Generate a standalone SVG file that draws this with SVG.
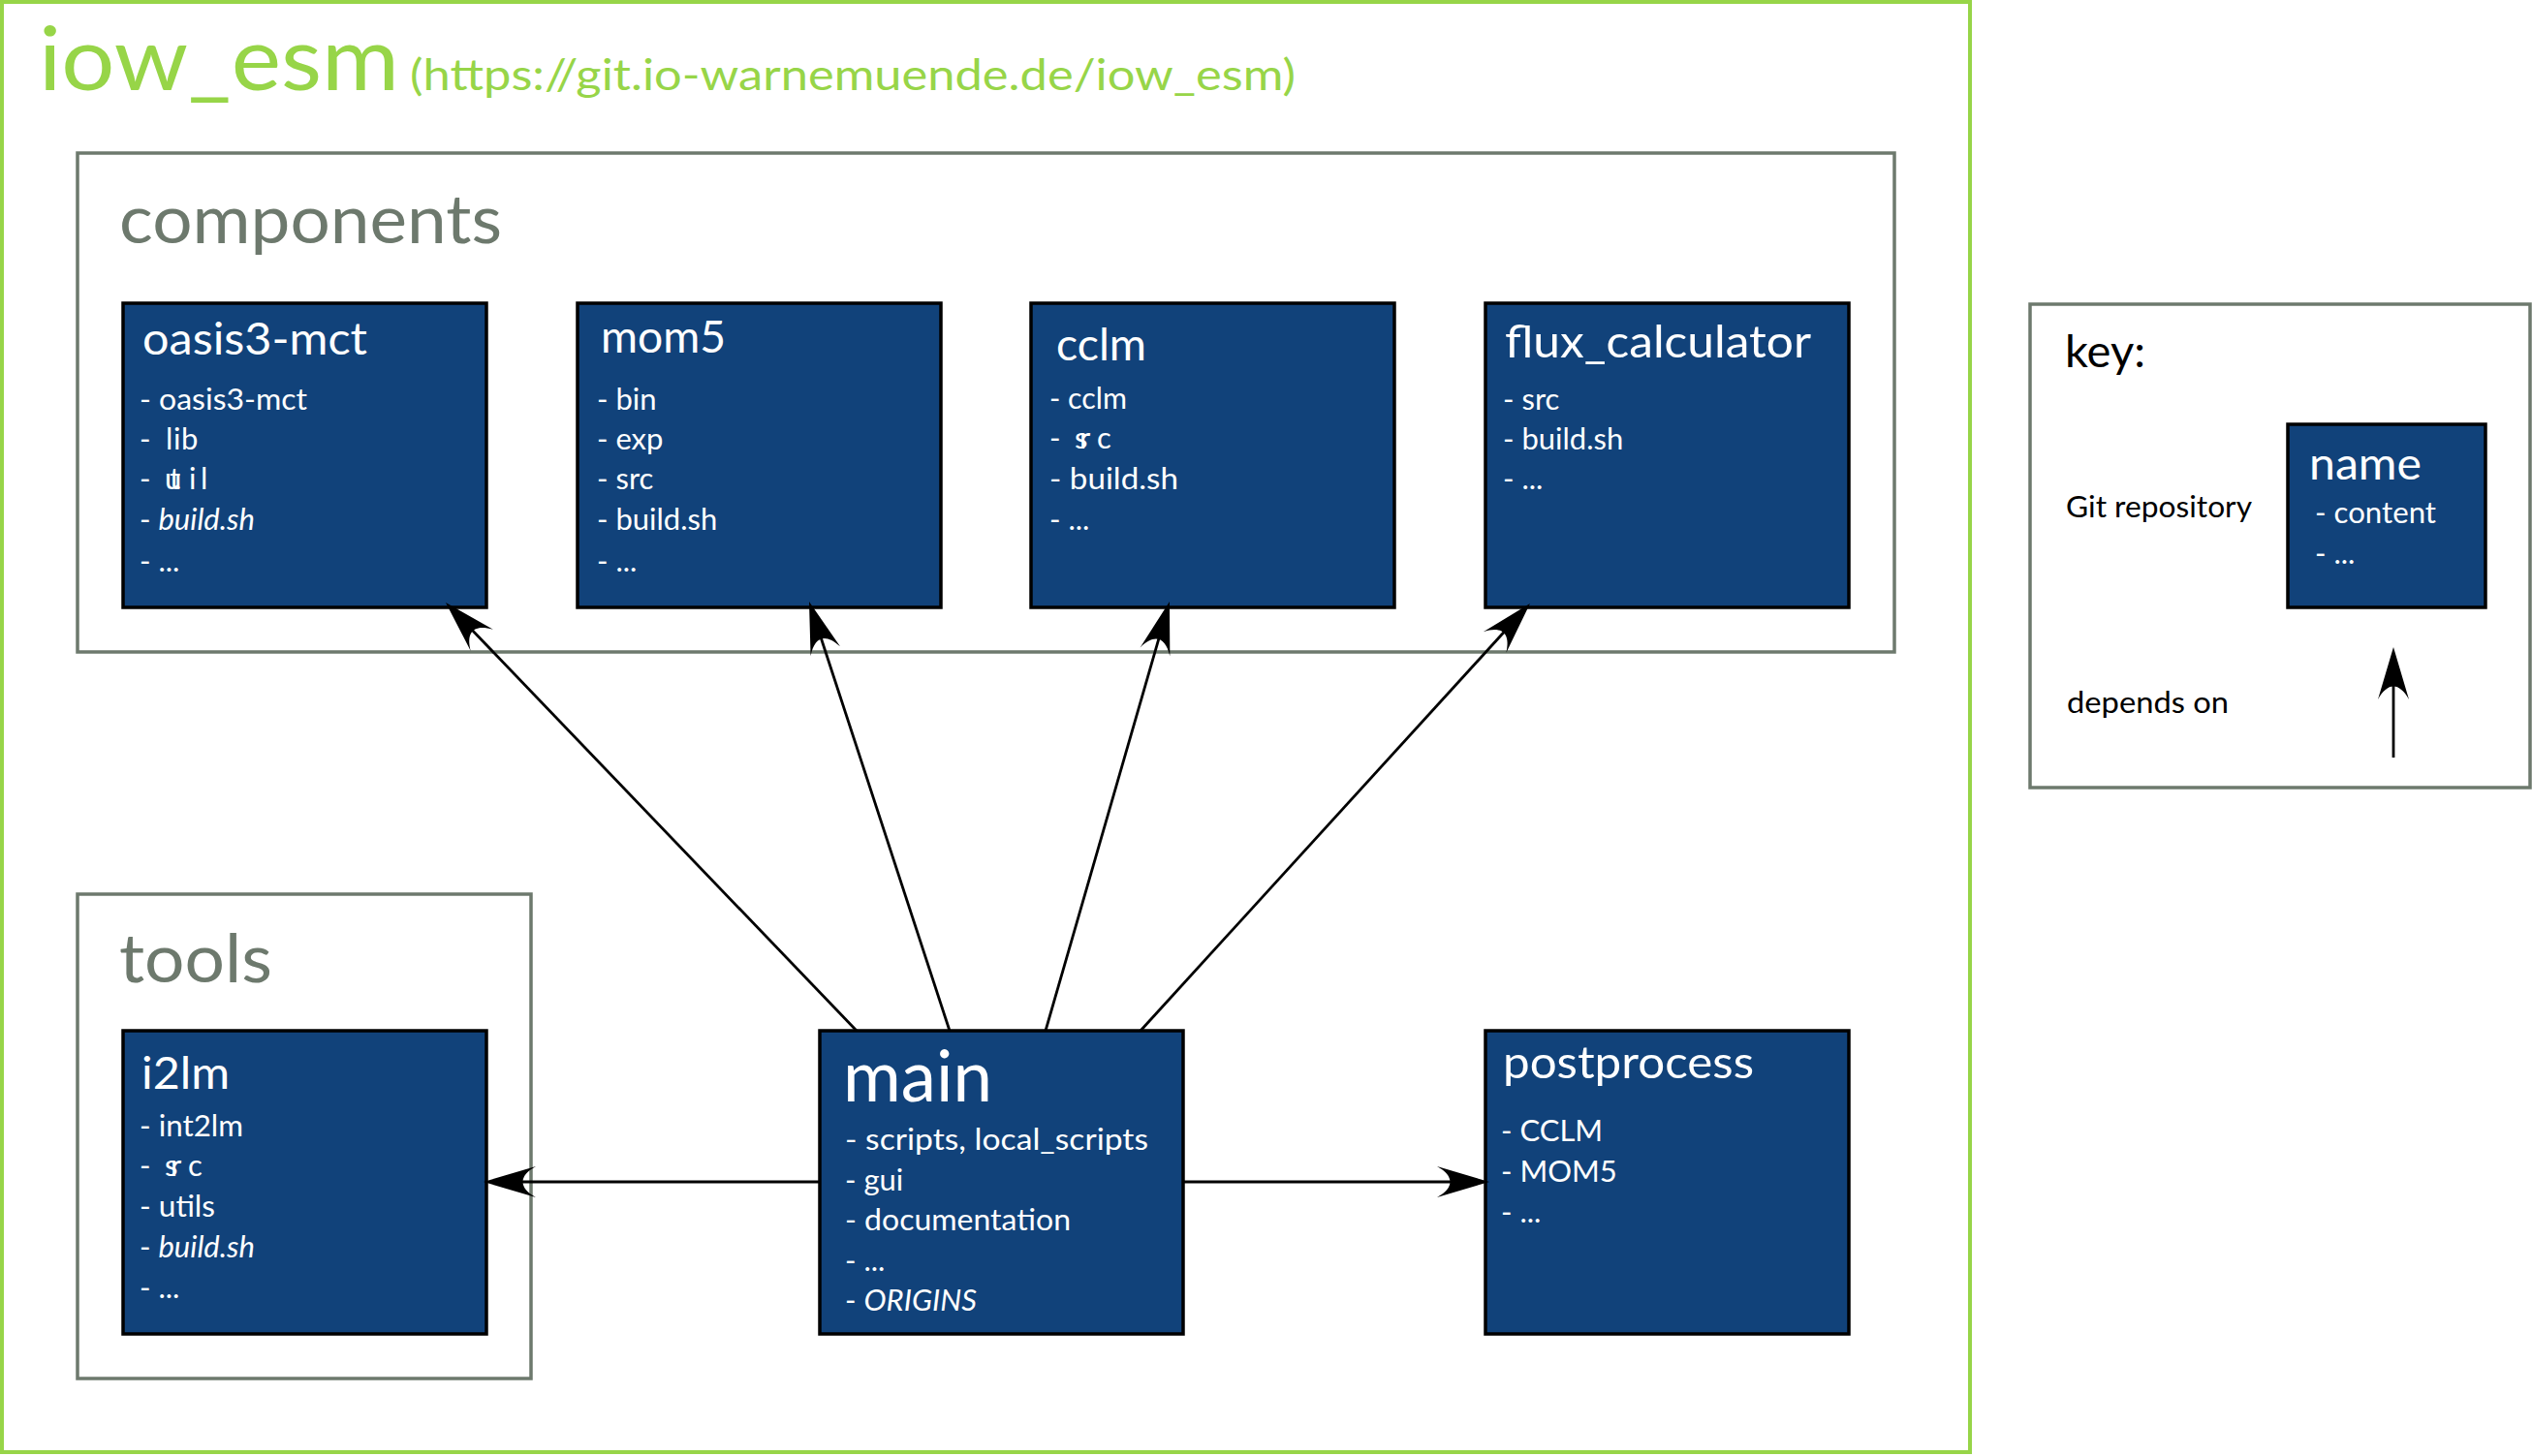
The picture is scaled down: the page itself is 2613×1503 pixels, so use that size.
<svg xmlns="http://www.w3.org/2000/svg" width="2613" height="1503" viewBox="0 0 2613 1503">
<style>
text{font-family:Lato,"Liberation Sans","DejaVu Sans",sans-serif}
.frame{fill:none;stroke:#97d548;stroke-width:4}
.group{fill:none;stroke:#6d796d;stroke-width:3.5}
.grouplabel{fill:#6d796d;font-size:70px}
.box{fill:#11427a;stroke:#000;stroke-width:3.5}
.title{fill:#fff;font-size:47px}
.big{font-size:74px}
.item{fill:#fff;font-size:31px}
.it{font-style:italic}
.key{fill:#000}
.conn{fill:none;stroke:#000;stroke-width:2.8}
</style>
<defs>
<marker id="arr" markerUnits="userSpaceOnUse" viewBox="0 -20 60 40" markerWidth="60" markerHeight="40" refX="34" refY="0" orient="auto" overflow="visible">
<path d="M54,0 L0,16 C18,6 18,-6 0,-16 Z" fill="#000"/>
</marker>
</defs>
<rect width="2613" height="1503" fill="#fff"/>

<g id="frame">
<rect class="frame" x="2" y="2" width="2031" height="1497"/>
<text x="40" y="93" fill="#97d548" font-size="92" textLength="372" lengthAdjust="spacingAndGlyphs">iow_esm</text>
<text x="423" y="93" fill="#97d548" font-size="45" textLength="914" lengthAdjust="spacingAndGlyphs">(https://git.io-warnemuende.de/iow_esm)</text>
</g>

<g id="components">
<rect class="group" x="80" y="158" width="1875" height="515"/>
<text class="grouplabel" x="123" y="251" textLength="395" lengthAdjust="spacingAndGlyphs">components</text>
</g>

<g id="tools">
<rect class="group" x="80" y="923" width="468" height="500"/>
<text class="grouplabel" x="123" y="1014" textLength="158" lengthAdjust="spacingAndGlyphs">tools</text>
</g>

<g id="oasis3-mct">
<rect class="box" x="127" y="313" width="375" height="314"/>
<text class="title" x="147" y="366" textLength="232" lengthAdjust="spacingAndGlyphs">oasis3-mct</text>
<text class="item" x="144" y="423" textLength="173" lengthAdjust="spacingAndGlyphs">- oasis3-mct</text>
<text class="item" x="144 152 171 179 187" y="464">- lib</text>
<text class="item" x="144 152 170 175 195 207" y="505">- util</text>
<text class="item" x="144" y="547">- <tspan class="it">build.sh</tspan></text>
<text class="item" x="144" y="590">- ...</text>
</g>

<g id="mom5">
<rect class="box" x="596" y="313" width="375" height="314"/>
<text class="title" x="620" y="364" textLength="129" lengthAdjust="spacingAndGlyphs">mom5</text>
<text class="item" x="616" y="423">- bin</text>
<text class="item" x="616" y="464">- exp</text>
<text class="item" x="616" y="505">- src</text>
<text class="item" x="616" y="547">- build.sh</text>
<text class="item" x="616" y="590">- ...</text>
</g>

<g id="cclm">
<rect class="box" x="1064" y="313" width="375" height="314"/>
<text class="title" x="1090" y="372" textLength="93" lengthAdjust="spacingAndGlyphs">cclm</text>
<text class="item" x="1083" y="422" textLength="80" lengthAdjust="spacingAndGlyphs">- cclm</text>
<text class="item" x="1083 1091 1109 1114 1132" y="463">- src</text>
<text class="item" x="1083" y="505" textLength="133" lengthAdjust="spacingAndGlyphs">- build.sh</text>
<text class="item" x="1083" y="547">- ...</text>
</g>

<g id="flux_calculator">
<rect class="box" x="1533" y="313" width="375" height="314"/>
<text class="title" x="1553" y="369" textLength="316" lengthAdjust="spacingAndGlyphs">flux_calculator</text>
<text class="item" x="1551" y="423">- src</text>
<text class="item" x="1551" y="464">- build.sh</text>
<text class="item" x="1551" y="505">- ...</text>
</g>

<g id="i2lm">
<rect class="box" x="127" y="1064" width="375" height="313"/>
<text class="title" x="146" y="1124" textLength="91" lengthAdjust="spacingAndGlyphs">i2lm</text>
<text class="item" x="144" y="1173" textLength="107" lengthAdjust="spacingAndGlyphs">- int2lm</text>
<text class="item" x="144 152 170 176 194" y="1214">- src</text>
<text class="item" x="144" y="1256" textLength="78" lengthAdjust="spacingAndGlyphs">- utils</text>
<text class="item" x="144" y="1298">- <tspan class="it">build.sh</tspan></text>
<text class="item" x="144" y="1340">- ...</text>
</g>

<g id="main">
<rect class="box" x="846" y="1064" width="375" height="313"/>
<text class="title big" x="870" y="1137" textLength="154" lengthAdjust="spacingAndGlyphs">main</text>
<text class="item" x="872" y="1187" textLength="313" lengthAdjust="spacingAndGlyphs">- scripts, local_scripts</text>
<text class="item" x="872" y="1229">- gui</text>
<text class="item" x="872" y="1270" textLength="233" lengthAdjust="spacingAndGlyphs">- documentation</text>
<text class="item" x="872" y="1312">- ...</text>
<text class="item" x="872" y="1353">- <tspan class="it">ORIGINS</tspan></text>
</g>

<g id="postprocess">
<rect class="box" x="1533" y="1064" width="375" height="313"/>
<text class="title" x="1551" y="1113" textLength="259" lengthAdjust="spacingAndGlyphs">postprocess</text>
<text class="item" x="1549" y="1178">- CCLM</text>
<text class="item" x="1549" y="1220">- MOM5</text>
<text class="item" x="1549" y="1262">- ...</text>
</g>

<g id="key">
<rect class="group" x="2095" y="314" width="516" height="499"/>
<text class="key" x="2131" y="379" font-size="47" textLength="83" lengthAdjust="spacingAndGlyphs">key:</text>
<text class="key" x="2132" y="534" font-size="31" textLength="192" lengthAdjust="spacingAndGlyphs">Git repository</text>
<text class="key" x="2133" y="736" font-size="31" textLength="167" lengthAdjust="spacingAndGlyphs">depends on</text>
<g id="key-node">
<rect class="box" x="2361" y="438" width="204" height="189"/>
<text class="title" x="2383" y="495" textLength="116" lengthAdjust="spacingAndGlyphs">name</text>
<text class="item" x="2389" y="540" textLength="125" lengthAdjust="spacingAndGlyphs">- content</text>
<text class="item" x="2389" y="582">- ...</text>
</g>
<line class="conn" x1="2470" y1="782" x2="2470" y2="688" marker-end="url(#arr)"/>
</g>

<g id="connectors">
<line class="conn" x1="884" y1="1064" x2="473.8" y2="636.4" marker-end="url(#arr)"/>
<line class="conn" x1="980" y1="1064" x2="841.2" y2="640" marker-end="url(#arr)"/>
<line class="conn" x1="1079" y1="1064" x2="1201.4" y2="640.2" marker-end="url(#arr)"/>
<line class="conn" x1="1177" y1="1064" x2="1565.5" y2="637.8" marker-end="url(#arr)"/>
<line class="conn" x1="846" y1="1220" x2="519" y2="1220" marker-end="url(#arr)"/>
<line class="conn" x1="1221" y1="1220" x2="1517" y2="1220" marker-end="url(#arr)"/>
</g>
</svg>
